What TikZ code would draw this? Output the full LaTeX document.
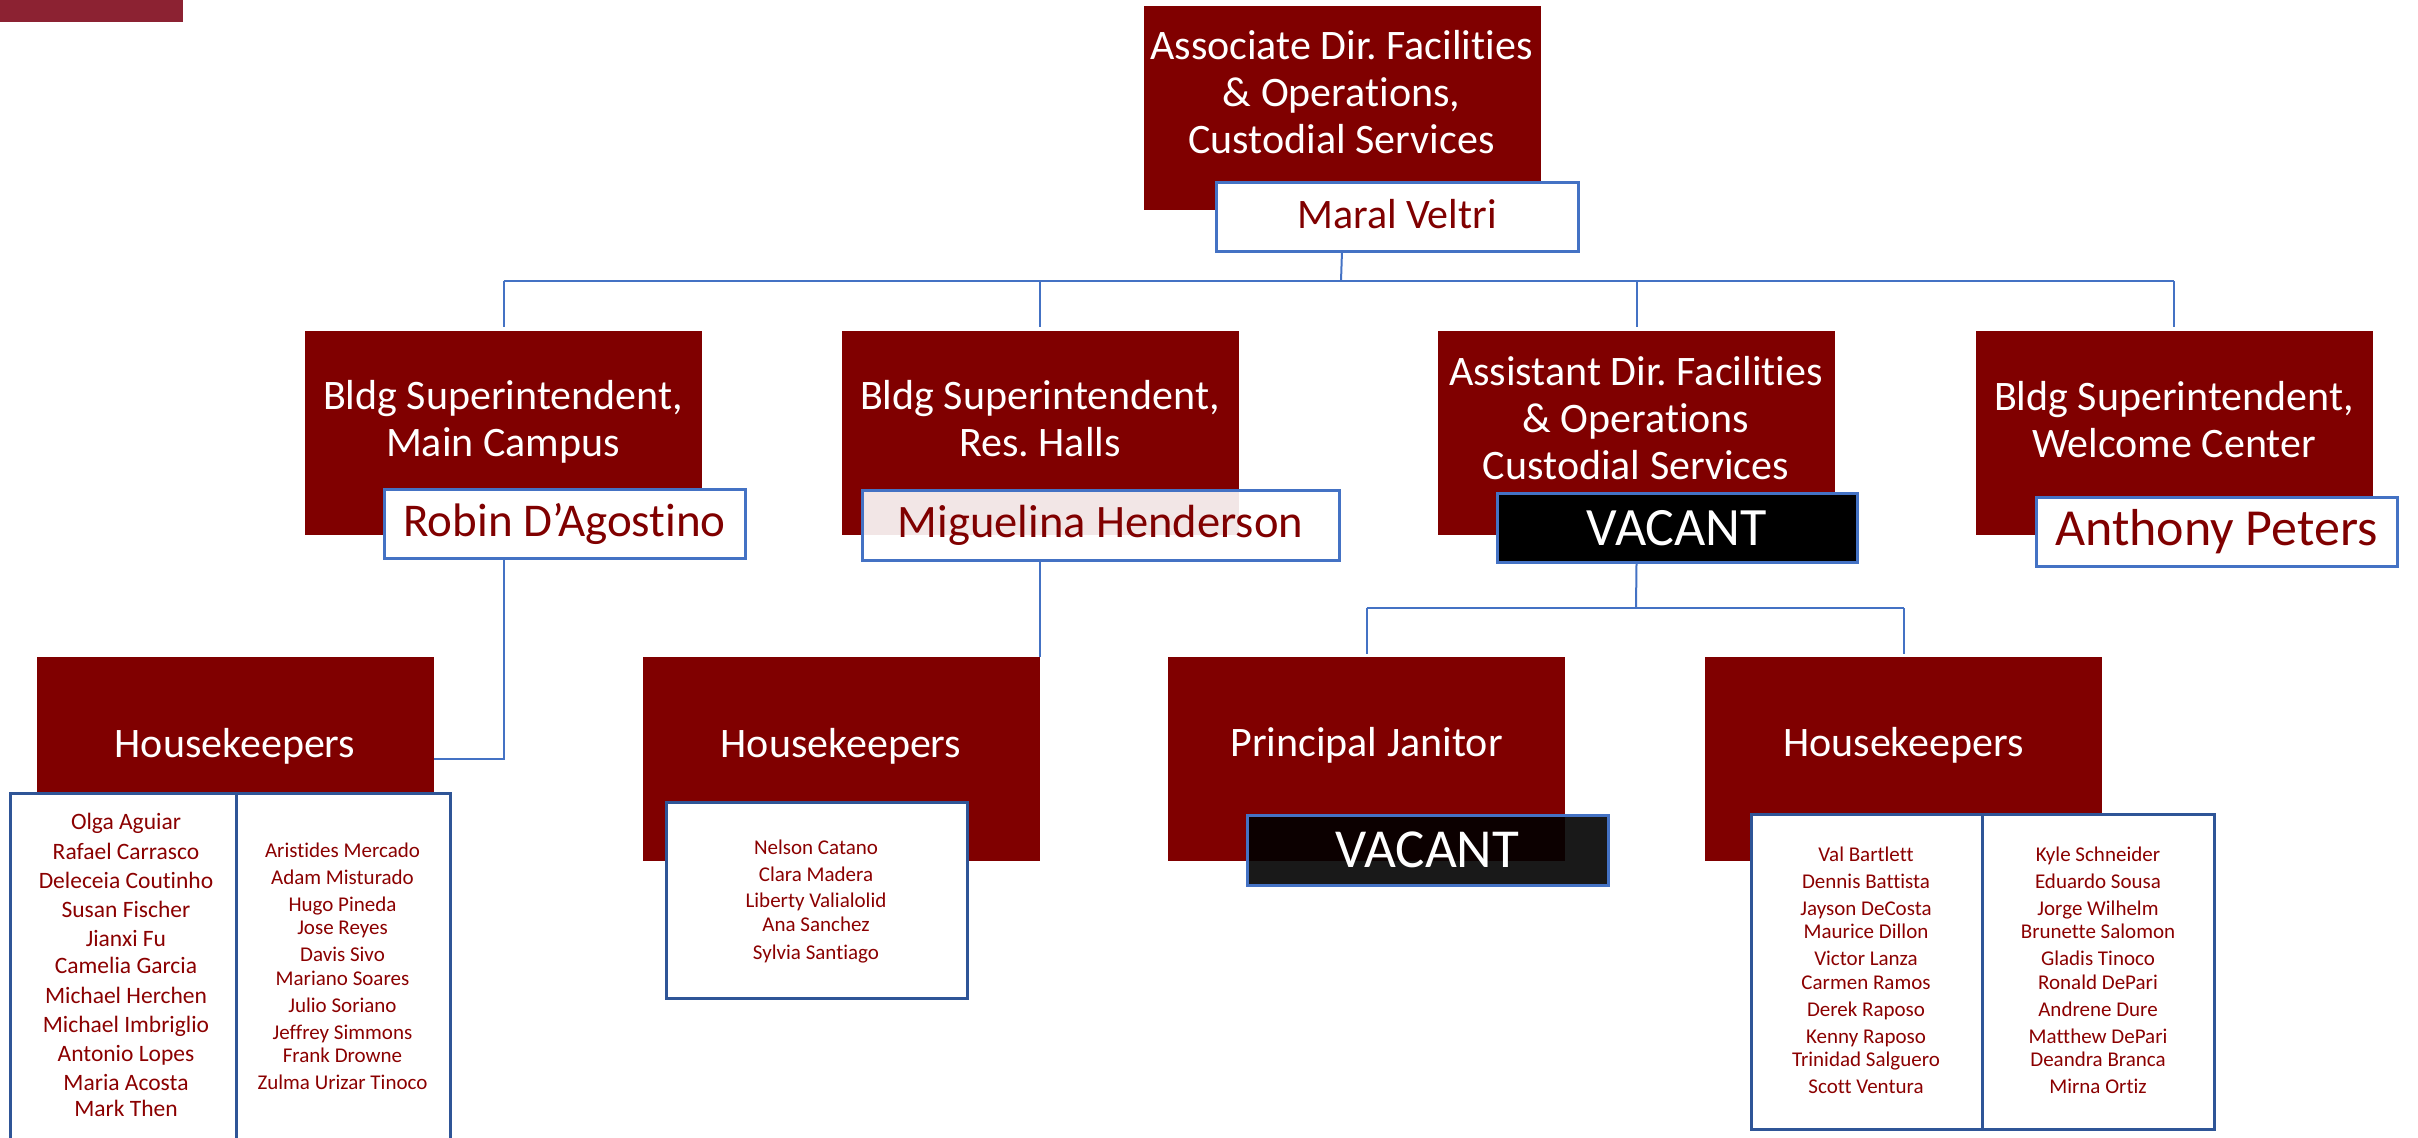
\documentclass[tikz,border=0pt]{standalone}
\usepackage{fontspec}
\setmainfont{Carlito}[Ligatures=NoCommon]
\frenchspacing
\definecolor{maroon}{HTML}{800000}
\definecolor{topbar}{HTML}{8C2232}
\definecolor{obl}{HTML}{4472C4}
\definecolor{dbl}{HTML}{2F5597}
\definecolor{nametxt}{HTML}{800000}
\definecolor{listtxt}{HTML}{8B0000}
\tikzset{
  redbox/.style={fill=maroon, draw=none, inner sep=0pt, minimum width=397pt, minimum height=204pt},
  titletext/.style={text=white, align=center, inner sep=0pt, text depth=0pt, font=\fontsize{42}{47}\selectfont},
  title1/.style={titletext, text height=23.1pt},
  title2/.style={titletext, text height=70.1pt},
  title3/.style={titletext, text height=117.1pt},
  namebox/.style={draw=obl, line width=3pt, fill=white, text=nametxt, inner sep=0pt, text depth=0pt},
  vacbox/.style={draw=obl, line width=3pt, fill=black, text=white, inner sep=0pt, text depth=0pt},
  listbox/.style={draw=dbl, line width=3pt, fill=white},
  conn/.style={draw=obl, line width=2pt},
  person/.style={text=listtxt, inner sep=0pt, text depth=0pt},
  bigperson/.style={person, font=\fontsize{23.5}{26}\selectfont, text height=12.9pt},
  smallperson/.style={person, font=\fontsize{21}{24}\selectfont, text height=11.5pt},
}
\begin{document}
\begin{tikzpicture}[x=1pt,y=-1pt]
\useasboundingbox (0,0) rectangle (2418,1138);
\clip (0,0) rectangle (2418,1138);
% corner bar
\fill[topbar] (0,0) rectangle (183,22);

% red boxes
\node[redbox] (top) at (1342,108) {};
\node[redbox] (b1) at (503.5,433) {};
\node[redbox] (b2) at (1040,433) {};
\node[redbox] (b3) at (1636.5,433) {};
\node[redbox] (b4) at (2174,433) {};
\node[redbox] (hk1) at (235,759) {};
\node[redbox] (hk2) at (841,759) {};
\node[redbox] (pj) at (1366.5,759) {};
\node[redbox] (hk3) at (1903.5,759) {};

% titles
\node[title3] (ttop) at (1341.5,95) {Associate Dir. Facilities\\\& Operations,\\Custodial Services};
\node[title2] (tb1) at (503,421) {Bldg Superintendent,\\Main Campus};
\node[title2] (tb2) at (1040,421) {Bldg Superintendent,\\Res. Halls};
\node[title3] (tb3) at (1636,420.5) {Assistant Dir. Facilities\\\& Operations\\Custodial Services};
\node[title2] (tb4) at (2174,422) {Bldg Superintendent,\\Welcome Center};
\node[title1] (thk1) at (235,746) {Housekeepers};
\node[title1] (thk2) at (841,746) {Housekeepers};
\node[title1] (tpj) at (1366.5,745) {Principal Janitor};
\node[title1] (thk3) at (1903.5,745) {Housekeepers};

% connectors
\coordinate (j1) at (1341,281);
\coordinate (j2) at (1636,608);
\draw[conn] (top.center |- 0,251) -- (j1);
\draw[conn] (b1.north |- j1) -- (b4.north |- j1);
\foreach \b in {b1,b2,b3,b4} \draw[conn, shorten >=4pt] (\b.north |- j1) -- (\b.north);
\draw[conn] (b1.center |- 0,557) |- (hk1.east);
\draw[conn] (b2.center |- 0,560) -- (b2.center |- hk2.north);
\draw[conn] (b3.center |- 0,564) -- (j2);
\draw[conn] (pj.north |- j2) -- (hk3.north |- j2);
\draw[conn, shorten >=3pt] (pj.north |- j2) -- (pj.north);
\draw[conn, shorten >=3pt] (hk3.north |- j2) -- (hk3.north);

% name boxes
\node[namebox, minimum width=362pt, minimum height=69pt, font=\fontsize{42}{46}\selectfont, text height=23.1pt] (maral) at (1397,216.5) {Maral Veltri};
\node[namebox, minimum width=361pt, minimum height=69pt, font=\fontsize{47}{50}\selectfont, text height=25.9pt] (robin) at (564.5,524) {Robin D’Agostino};
\node[namebox, fill opacity=0.9, text opacity=1, minimum width=477pt, minimum height=70pt, font=\fontsize{46.5}{50}\selectfont, text height=25.6pt] (miguelina) at (1100.5,525) {Miguelina Henderson};
\node[vacbox, minimum width=360pt, minimum height=69pt, font=\fontsize{54}{58}\selectfont, text height=34.6pt] (vac1) at (1677,528) {VACANT};
\node[namebox, minimum width=361pt, minimum height=69pt, font=\fontsize{52}{56}\selectfont, text height=28.6pt] (anthony) at (2216.5,531.5) {Anthony Peters};
\node[vacbox, fill opacity=0.9, text opacity=1, minimum width=361pt, minimum height=70pt, font=\fontsize{55}{58}\selectfont, text height=35.2pt] (vac2) at (1427.5,850) {VACANT};

% list boxes
\draw[listbox] (10,793) rectangle (236,1170);
\draw[listbox] (236,793) rectangle (450,1170);
\draw[listbox] (666,802) rectangle (967,998);
\draw[listbox] (1751,814) rectangle (1982,1129);
\draw[listbox] (1982,814) rectangle (2214,1129);

% names HK1 left
\foreach \n/\y [count=\i] in {Olga Aguiar/822.7, Rafael Carrasco/852.7, Deleceia Coutinho/881.7, Susan Fischer/910.7, Jianxi Fu/940, Camelia Garcia/966.7, Michael Herchen/996.7, Michael Imbriglio/1025.7, Antonio Lopes/1055, Maria Acosta/1084.3, Mark Then/1110}
  \node[bigperson] (pa\i) at (126,\y) {\n};
% names HK1 right
\foreach \n/\y [count=\i] in {Aristides Mercado/851.7, Adam Misturado/878.7, Hugo Pineda/905.7, Jose Reyes/928.3, Davis Sivo/955.3, Mariano Soares/979.3, Julio Soriano/1006.7, Jeffrey Simmons/1033.3, Frank Drowne/1056.7, Zulma Urizar Tinoco/1083.3}
  \node[smallperson] (pb\i) at (342.5,\y) {\n};
% names HK2
\foreach \n/\y [count=\i] in {Nelson Catano/848.7, Clara Madera/875.3, Liberty Valialolid/901.7, Ana Sanchez/925.7, Sylvia Santiago/953.3}
  \node[smallperson] (pc\i) at (816,\y) {\n};
% names HK3 left
\foreach \n/\y [count=\i] in {Val Bartlett/855.7, Dennis Battista/882.7, Jayson DeCosta/910, Maurice Dillon/932.7, Victor Lanza/959.3, Carmen Ramos/983.3, Derek Raposo/1010.7, Kenny Raposo/1037.7, Trinidad Salguero/1060.7, Scott Ventura/1087.3}
  \node[smallperson] (pd\i) at (1866,\y) {\n};
% names HK3 right
\foreach \n/\y [count=\i] in {Kyle Schneider/855.7, Eduardo Sousa/882.7, Jorge Wilhelm/910, Brunette Salomon/932.7, Gladis Tinoco/959.3, Ronald DePari/983.3, Andrene Dure/1010.7, Matthew DePari/1037.7, Deandra Branca/1060.7, Mirna Ortiz/1087.3}
  \node[smallperson] (pe\i) at (2098,\y) {\n};
\end{tikzpicture}
\end{document}
